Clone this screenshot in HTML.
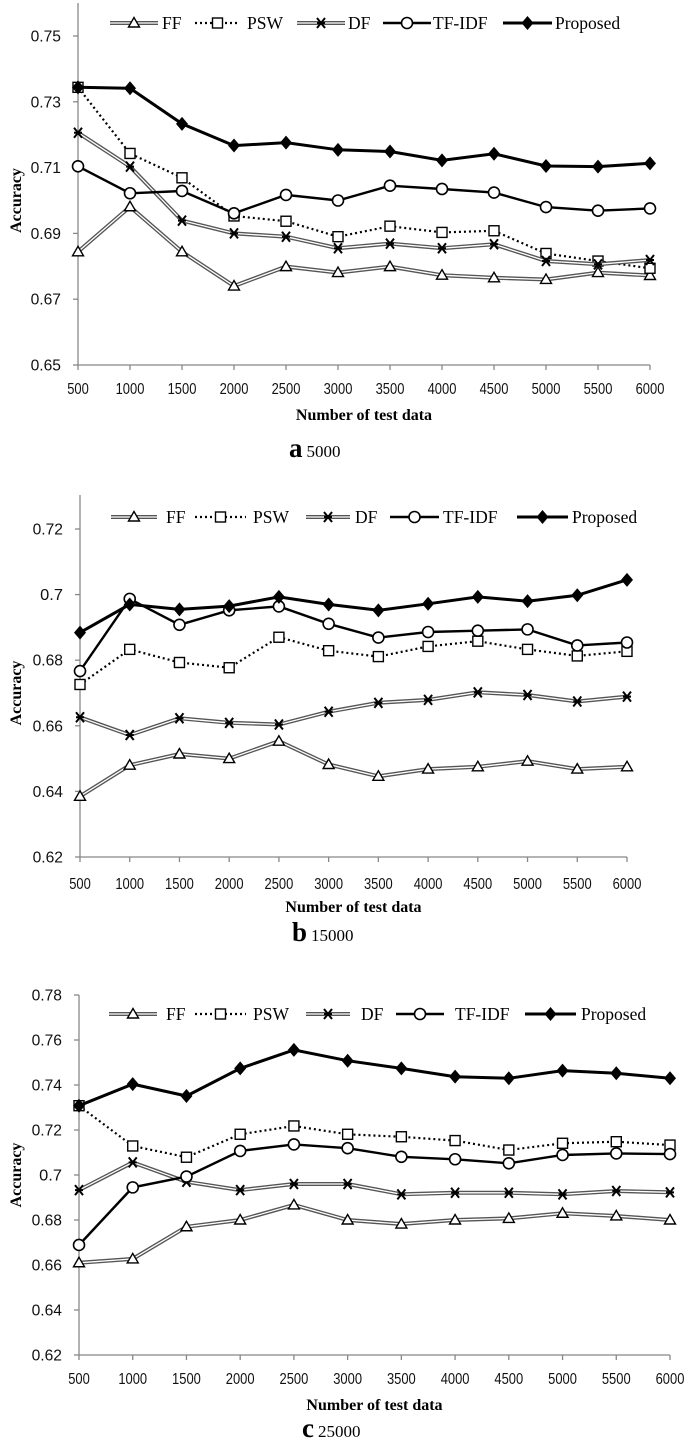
<!DOCTYPE html>
<html><head><meta charset="utf-8">
<style>
html,body{margin:0;padding:0;background:#fff;}
body{width:685px;height:1449px;overflow:hidden;position:relative;}
svg{position:absolute;left:0;top:0;}
.tick{font-family:"Liberation Sans",sans-serif;font-size:16px;fill:#111;}
.leg{font-family:"Liberation Serif",serif;font-size:17.5px;fill:#000;}
.ttl{font-family:"Liberation Serif",serif;font-size:16px;font-weight:bold;fill:#000;}
.cap1{font-family:"Liberation Serif",serif;font-size:27px;font-weight:bold;fill:#000;}
.cap2{font-family:"Liberation Serif",serif;font-size:17px;font-weight:normal;fill:#000;}
</style></head>
<body>
<svg id="chart" width="685" height="1449" viewBox="0 0 685 1449" xmlns="http://www.w3.org/2000/svg"></svg>
<script>
const categories = [500,1000,1500,2000,2500,3000,3500,4000,4500,5000,5500,6000];
const seriesNames = ["FF","PSW","DF","TF-IDF","Proposed"];
// chart a (5000)
const aFF = [0.6844,0.6981,0.6844,0.6740,0.6799,0.6781,0.6799,0.6773,0.6765,0.6760,0.6781,0.6772];
const aPSW = [0.7344,0.7143,0.7069,0.6953,0.6937,0.6890,0.6922,0.6903,0.6908,0.6839,0.6816,0.6794];
const aDF = [0.7206,0.7103,0.6939,0.6900,0.6890,0.6855,0.6869,0.6855,0.6867,0.6816,0.6806,0.6819];
const aTFIDF = [0.7104,0.7022,0.7029,0.6961,0.7017,0.7000,0.7045,0.7035,0.7024,0.6980,0.6969,0.6976];
const aProposed = [0.7344,0.7341,0.7233,0.7167,0.7176,0.7154,0.7149,0.7122,0.7142,0.7105,0.7103,0.7113];
const aTicks = ["0.65","0.67","0.69","0.71","0.73","0.75"];
// chart b (15000)
const bFF = [0.6385,0.6480,0.6514,0.6500,0.6553,0.6482,0.6446,0.6468,0.6475,0.6492,0.6468,0.6475];
const bPSW = [0.6726,0.6833,0.6793,0.6777,0.6870,0.6829,0.6811,0.6842,0.6858,0.6833,0.6813,0.6827];
const bDF = [0.6626,0.6572,0.6623,0.6609,0.6604,0.6643,0.6670,0.6679,0.6702,0.6694,0.6674,0.6689];
const bTFIDF = [0.6767,0.6987,0.6908,0.6952,0.6964,0.6911,0.6869,0.6886,0.6890,0.6894,0.6845,0.6854];
const bProposed = [0.6884,0.6970,0.6955,0.6965,0.6993,0.6970,0.6952,0.6972,0.6993,0.6980,0.6998,0.7045];
const bTicks = ["0.62","0.64","0.66","0.68","0.7","0.72"];
// chart c (25000)
const cFF = [0.6610,0.6627,0.6770,0.6800,0.6867,0.6800,0.6782,0.6800,0.6807,0.6830,0.6818,0.6800];
const cPSW = [0.7308,0.7129,0.7079,0.7181,0.7218,0.7181,0.7170,0.7153,0.7111,0.7141,0.7148,0.7133];
const cDF = [0.6933,0.7056,0.6970,0.6933,0.6960,0.6960,0.6914,0.6921,0.6921,0.6914,0.6929,0.6923];
const cTFIDF = [0.6689,0.6945,0.6993,0.7107,0.7136,0.7119,0.7081,0.7070,0.7052,0.7089,0.7096,0.7093];
const cProposed = [0.7308,0.7404,0.7351,0.7474,0.7556,0.7508,0.7474,0.7437,0.7430,0.7464,0.7452,0.7430];
const cTicks = ["0.62","0.64","0.66","0.68","0.7","0.72","0.74","0.76","0.78"];

const NS="http://www.w3.org/2000/svg";
const root=document.getElementById('chart');
function mk(tag,attrs,parent){const e=document.createElementNS(NS,tag);for(const k in attrs)e.setAttribute(k,attrs[k]);(parent||root).appendChild(e);return e;}

function marker(g,type,x,y){
  let m;
  if(type==="FF"){m=mk('polygon',{points:`${x},${y-5.5} ${x-5.5},${y+4} ${x+5.5},${y+4}`,fill:'#fff',stroke:'#000','stroke-width':1.4},g);}
  else if(type==="PSW"){m=mk('rect',{x:x-5,y:y-5,width:10,height:10,fill:'#fff',stroke:'#000','stroke-width':1.4},g);}
  else if(type==="DF"){m=mk('path',{d:`M${x-4},${y-5}L${x+4},${y+5}M${x+4},${y-5}L${x-4},${y+5}M${x-4},${y}L${x+4},${y}`,stroke:'#000','stroke-width':2,fill:'none'},g);}
  else if(type==="TF-IDF"){m=mk('circle',{cx:x,cy:y,r:5.5,fill:'#fff',stroke:'#000','stroke-width':1.6},g);}
  else {m=mk('polygon',{points:`${x},${y-7} ${x+6},${y} ${x},${y+7} ${x-6},${y}`,fill:'#000'},g);}
  
  
}
function line(g,type,pts){
  const d=pts.map((p,i)=>(i?'L':'M')+p[0].toFixed(1)+','+p[1].toFixed(1)).join('');
  if(type==="FF"||type==="DF"){
    mk('path',{d,stroke:'#555','stroke-width':4,fill:'none'},g);
    mk('path',{d,stroke:'#fff','stroke-width':1.3,fill:'none'},g);
  } else if(type==="PSW"){
    mk('path',{d,stroke:'#000','stroke-width':2.2,fill:'none','stroke-dasharray':'2 3'},g);
  } else if(type==="TF-IDF"){
    mk('path',{d,stroke:'#000','stroke-width':2.4,fill:'none'},g);
  } else {
    mk('path',{d,stroke:'#000','stroke-width':3,fill:'none'},g);
  }
}

function drawChart(cfg){
  const g=mk('g',{});
  
  
  const ymin=parseFloat(cfg.ticks[0]), ymax=parseFloat(cfg.ticks[cfg.ticks.length-1]);
  const ys=v=>cfg.yBot-(v-ymin)/(ymax-ymin)*(cfg.yBot-cfg.yTop);
  const xs=i=>cfg.x0+i*(cfg.x1-cfg.x0)/(categories.length-1);
  const ya=mk('line',{x1:cfg.x0,y1:cfg.axisTop,x2:cfg.x0,y2:cfg.yBot,stroke:'#888','stroke-width':1.3},g);
  
  
  const xa=mk('line',{x1:cfg.x0,y1:cfg.yBot,x2:cfg.x1,y2:cfg.yBot,stroke:'#888','stroke-width':1.3},g);
  
  
  cfg.ticks.forEach(t=>{
    const y=ys(parseFloat(t));
    mk('line',{x1:cfg.x0-5,y1:y,x2:cfg.x0,y2:y,stroke:'#888','stroke-width':1.3},g);
    const tx=mk('text',{x:cfg.x0-17,y:y+5.5,'text-anchor':'end',class:'tick',textLength:(t.length*7.6).toFixed(1),lengthAdjust:'spacingAndGlyphs'},g);
    tx.textContent=t;
    
    
  });
  categories.forEach((c,i)=>{
    const x=xs(i);
    mk('line',{x1:x,y1:cfg.yBot,x2:x,y2:cfg.yBot+5,stroke:'#888','stroke-width':1.3},g);
    const s=String(c);
    const tx=mk('text',{x:x,y:cfg.xLab+6,'text-anchor':'middle',class:'tick',textLength:(s.length*7.2).toFixed(1),lengthAdjust:'spacingAndGlyphs'},g);
    tx.textContent=s;
    
    
  });
  const yt=mk('text',{x:0,y:0,'text-anchor':'middle',class:'ttl',transform:`translate(21,${(cfg.yTop+cfg.yBot)/2}) rotate(-90)`},g);
  yt.textContent='Accuracy';
  
  
  const xt=mk('text',{x:(cfg.x0+cfg.x1)/2,y:cfg.xTitle+5,'text-anchor':'middle',class:'ttl'},g);
  xt.textContent='Number of test data';
  
  
  const cap=mk('text',{x:cfg.capX,y:cfg.capY,class:'cap1'},g);
  
  
  const t1=mk('tspan',{},cap);t1.textContent=cfg.capL;
  const t2=mk('tspan',{class:'cap2',dx:4},cap);t2.textContent=cfg.capN;
  cfg.series.forEach((vals,si)=>{
    const sg=mk('g',{},g);
    
    
    const pts=vals.map((v,i)=>[xs(i),ys(v)]);
    line(sg,seriesNames[si],pts);
    pts.forEach(p=>marker(sg,seriesNames[si],p[0],p[1]));
  });
  const lg=mk('g',{},g);
  
  
  cfg.legend.forEach((L,si)=>{
    const eg=mk('g',{},lg);
    
    
    line(eg,seriesNames[si],[[L[0],cfg.legY],[L[1],cfg.legY]]);
    marker(eg,seriesNames[si],(L[0]+L[1])/2,cfg.legY);
    const tx=mk('text',{x:L[2],y:cfg.legY+6,class:'leg'},eg);
    tx.textContent=seriesNames[si];
  });
}

drawChart({name:'chart-a',ticks:aTicks,yTop:36,yBot:365,axisTop:3,x0:78,x1:650,xLab:388,xTitle:415,capX:289,capY:457,capL:'a',capN:'5000',
  series:[aFF,aPSW,aDF,aTFIDF,aProposed],legY:23,
  legend:[[110,158,162],[195,240,247],[297,345,348],[383,431,433],[503,552,555]]});
drawChart({name:'chart-b',ticks:bTicks,yTop:529,yBot:857,axisTop:495,x0:80,x1:627,xLab:883,xTitle:907,capX:292,capY:941,capL:'b',capN:'15000',
  series:[bFF,bPSW,bDF,bTFIDF,bProposed],legY:517,
  legend:[[111,157,166],[195,246,253],[306,350,355],[390,439,443],[517,568,572]]});
drawChart({name:'chart-c',ticks:cTicks,yTop:995,yBot:1355,axisTop:995,x0:79,x1:670,xLab:1378,xTitle:1405,capX:302,capY:1437,capL:'c',capN:'25000',
  series:[cFF,cPSW,cDF,cTFIDF,cProposed],legY:1014,
  legend:[[109,157,166],[195,246,253],[306,350,361],[396,444,455],[525,576,581]]});
</script>
</body></html>
